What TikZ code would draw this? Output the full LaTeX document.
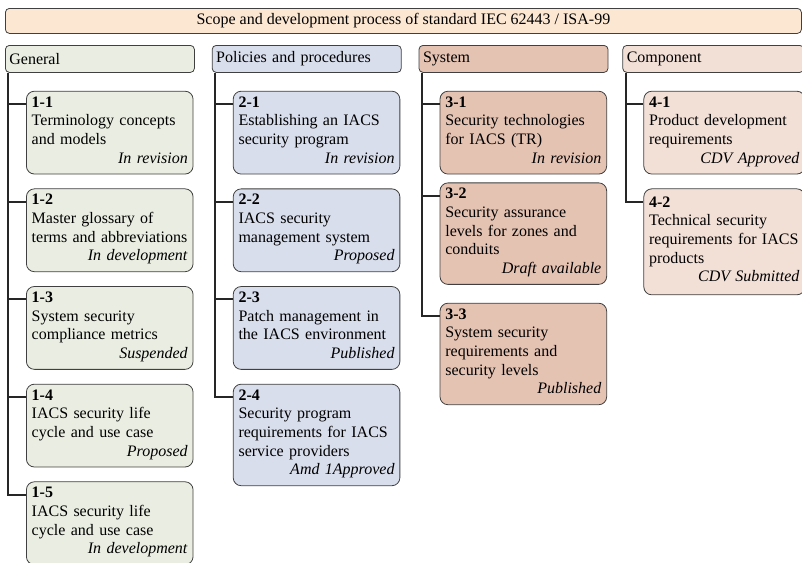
\documentclass[tikz,border=0pt]{standalone}
\usepackage{fontspec}
\setmainfont{Liberation Serif}
\usetikzlibrary{positioning, calc}

\definecolor{titlefill}{HTML}{FCE7D3}
\definecolor{genfill}{HTML}{EAEEE2}
\definecolor{polfill}{HTML}{D9DEEC}
\definecolor{sysfill}{HTML}{E5C3B3}
\definecolor{compfill}{HTML}{F2E0D7}

\newcommand{\status}[1]{\makebox[\hsize][r]{\textit{#1}\strut}}

\begin{document}
\begin{tikzpicture}[
    txt/.style={font=\fontsize{12pt}{14pt}\selectfont},
    titlebox/.style={txt, rectangle, rounded corners=3pt, draw=black!75, line width=0.6pt, fill=titlefill, minimum width=597pt, minimum height=18.75pt, anchor=north west},
    head/.style={txt, rectangle, rounded corners=3pt, draw=black!75, line width=0.6pt, text width=135.75pt, inner xsep=3pt, minimum height=20.25pt, align=left, anchor=north west},
    doc/.style={txt, rectangle, rounded corners=6pt, draw=black!75, line width=0.6pt, text width=117pt, inner xsep=4pt, inner ysep=4pt, align=left, anchor=north west},
    link/.style={line width=1.5pt, black!85}
]
\useasboundingbox (0,0) rectangle (601.5pt,-421.5pt);

% Title
\node[titlebox] (title) at (3.75pt,-6pt) {Scope and development process of standard IEC 62443 / ISA-99};

% Column heads
\node[head, fill=genfill] (gen) at (3.75pt,-33.75pt) {General};
\node[head, fill=polfill, right=12.75pt of gen] (pol) {Policies and procedures};
\node[head, fill=sysfill, right=12.75pt of pol] (sys) {System};
\node[head, fill=compfill, text width=129.75pt, right=10.5pt of sys] (comp) {Component};

% General
\node[doc, fill=genfill] (g1) at ($(gen.south west)+(15.75pt,-13.5pt)$) {\textbf{1-1}\\ Terminology concepts\\ and models\\ \status{In revision}};
\node[doc, fill=genfill, below=10.5pt of g1] (g2) {\textbf{1-2}\\ Master glossary of\\ terms and abbreviations\\ \status{In development}};
\node[doc, fill=genfill, below=10.5pt of g2] (g3) {\textbf{1-3}\\ System security\\ compliance metrics\\ \status{Suspended}};
\node[doc, fill=genfill, below=10.5pt of g3] (g4) {\textbf{1-4}\\ IACS security life\\ cycle and use case\\ \status{Proposed}};
\node[doc, fill=genfill, below=10.5pt of g4] (g5) {\textbf{1-5}\\ IACS security life\\ cycle and use case\\ \status{In development}};

% Policies and procedures
\node[doc, fill=polfill] (p1) at ($(pol.south west)+(15.75pt,-13.5pt)$) {\textbf{2-1}\\ Establishing an IACS\\ security program\\ \status{In revision}};
\node[doc, fill=polfill, below=10.5pt of p1] (p2) {\textbf{2-2}\\ IACS security\\ management system\\ \status{Proposed}};
\node[doc, fill=polfill, below=10.5pt of p2] (p3) {\textbf{2-3}\\ Patch management in\\ the IACS environment\\ \status{Published}};
\node[doc, fill=polfill, below=10.5pt of p3] (p4) {\textbf{2-4}\\ Security program\\ requirements for IACS\\ service providers\\ \status{Amd 1Approved}};

% System
\node[doc, fill=sysfill] (s1) at ($(sys.south west)+(15.75pt,-13.5pt)$) {\textbf{3-1}\\ Security technologies\\ for IACS (TR)\\ \status{In revision}};
\node[doc, fill=sysfill, below=6pt of s1] (s2) {\textbf{3-2}\\ Security assurance\\ levels for zones and\\ conduits\\ \status{Draft available}};
\node[doc, fill=sysfill, below=13.5pt of s2] (s3) {\textbf{3-3}\\ System security\\ requirements and\\ security levels\\ \status{Published}};

% Component
\node[doc, fill=compfill, text width=112.75pt] (c1) at ($(comp.south west)+(15.75pt,-13.5pt)$) {\textbf{4-1}\\ Product development\\ requirements\\ \status{CDV Approved}};
\node[doc, fill=compfill, text width=112.75pt, minimum height=79.5pt, below=10.5pt of c1] (c2) {\textbf{4-2}\\ Technical security\\ requirements for IACS\\ products\\ \status{CDV Submitted}};

% Connectors from each head down to its parts
\foreach \i in {1,...,5}
    \draw[link] ([xshift=2.5pt]gen.south west) |- ([yshift=-10pt]g\i.north west);
\foreach \i in {1,...,4}
    \draw[link] ([xshift=2.5pt]pol.south west) |- ([yshift=-10pt]p\i.north west);
\foreach \i in {1,...,3}
    \draw[link] ([xshift=2.5pt]sys.south west) |- ([yshift=-10pt]s\i.north west);
\foreach \i in {1,2}
    \draw[link] ([xshift=2.5pt]comp.south west) |- ([yshift=-10pt]c\i.north west);

\end{tikzpicture}
\end{document}
